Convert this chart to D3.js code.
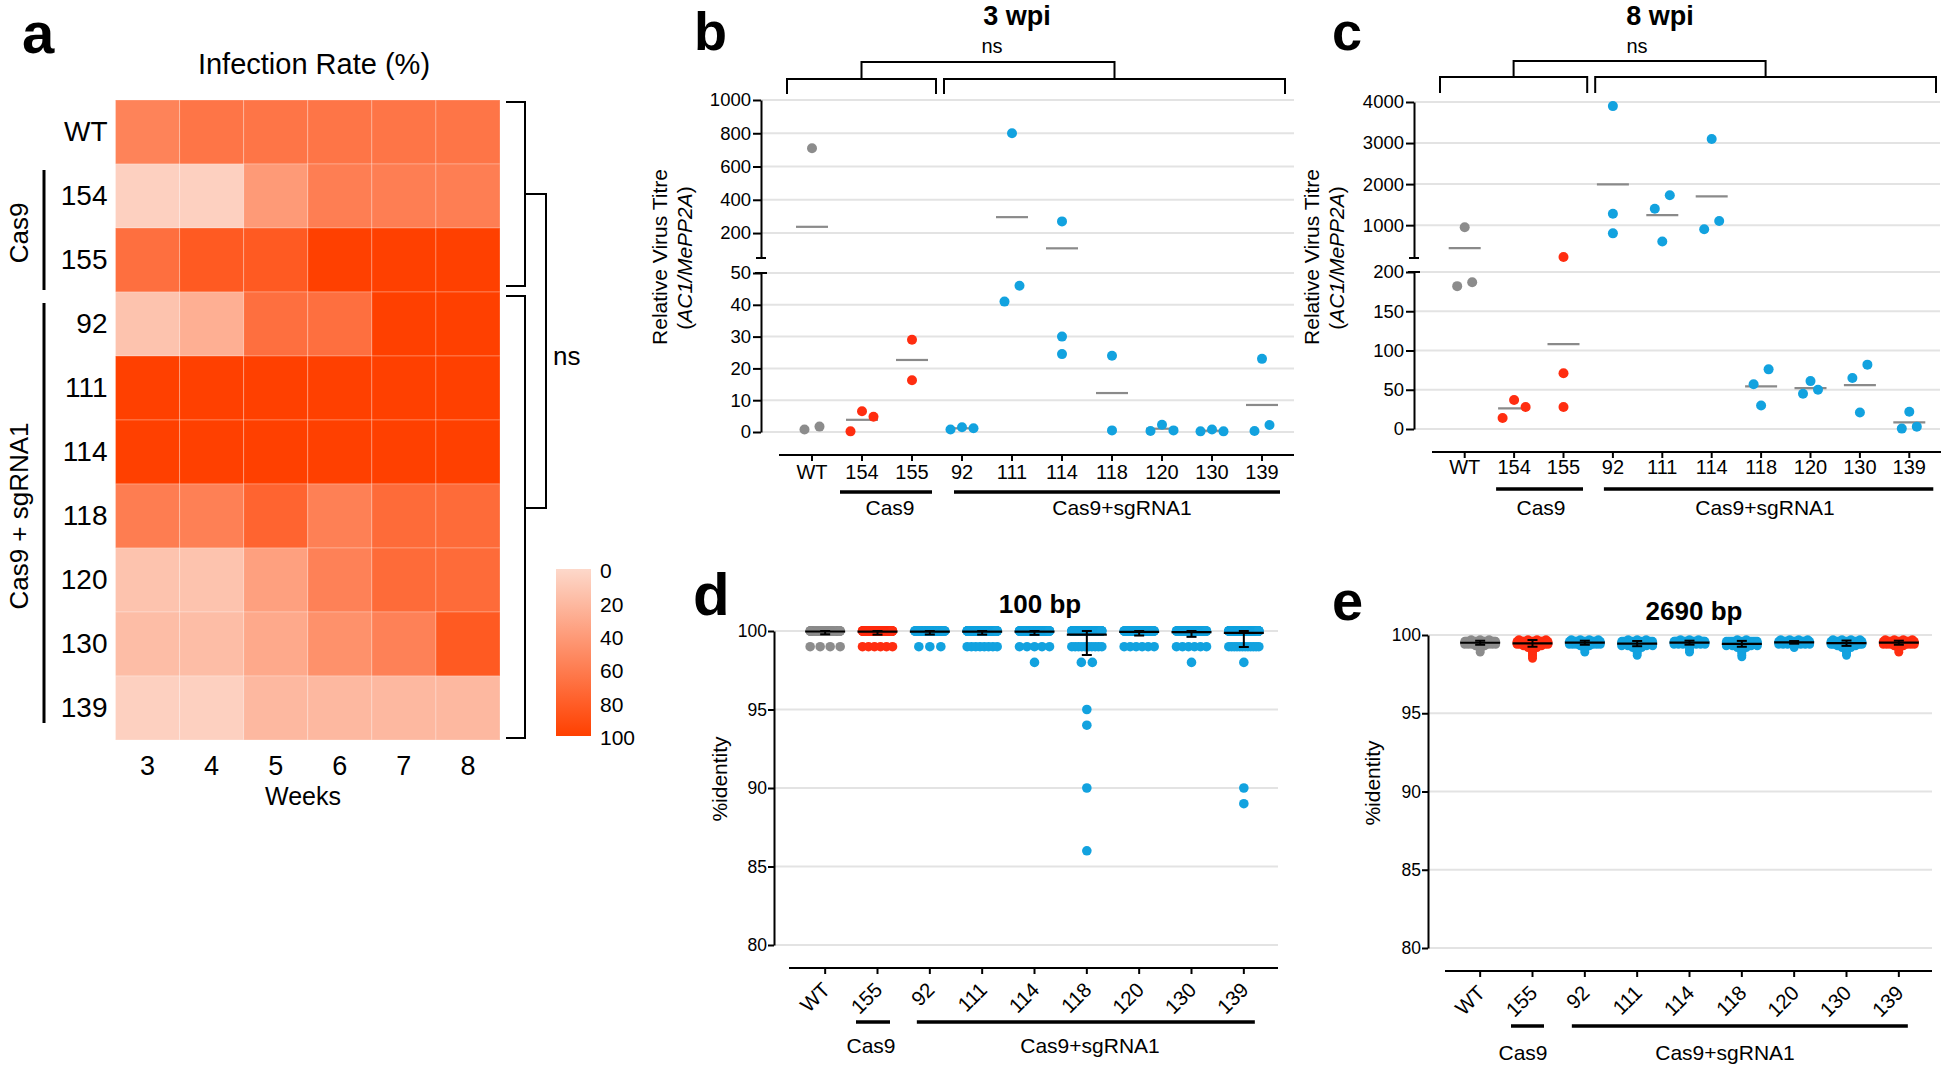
<!DOCTYPE html>
<html><head><meta charset="utf-8">
<script src="https://cdn.jsdelivr.net/npm/d3@7"></script>
<style>
body{margin:0;background:#fff}
svg{display:block}
text{font-family:'Liberation Sans',Arial,Helvetica,sans-serif;fill:#000}
</style></head>
<body>
<svg id="fig" width="1946" height="1071"></svg>
<script>
// ---------------- DATA ----------------
// panel a: infection rate heatmap (%)
const heatWeeks = [3, 4, 5, 6, 7, 8];
const heatLines = ["WT", "154", "155", "92", "111", "114", "118", "120", "130", "139"];
const heatRate = [
  [56, 65, 65, 65, 65, 65],
  [5, 5, 41, 59, 59, 59],
  [69, 83, 83, 100, 100, 100],
  [14, 27, 69, 69, 100, 100],
  [100, 100, 100, 100, 100, 100],
  [100, 100, 100, 100, 100, 100],
  [60, 58, 76, 58, 72, 72],
  [14, 14, 37, 57, 72, 72],
  [18, 18, 31, 47, 57, 83],
  [5, 5, 21, 21, 21, 21]
];
const heatLegendTicks = [0, 20, 40, 60, 80, 100];

// panels b, c: relative virus titre
const titreCats = ["WT", "154", "155", "92", "111", "114", "118", "120", "130", "139"];
const titreGroup = ["WT", "Cas9", "Cas9", "sgRNA1", "sgRNA1", "sgRNA1", "sgRNA1", "sgRNA1", "sgRNA1", "sgRNA1"];
const titre3wpi = [
  [710, 0.8, 1.7], [6.5, 4.8, 0.2], [29, 16.3], [1.5, 0.8, 1.2], [800, 41, 46],
  [270, 30, 24.5], [24, 0.5], [2.3, 0.3, 0.5], [0.8, 0.2, 0.2], [23, 0.3, 2.2]
];
const titre8wpi = [
  [950, 182, 187], [37, 28, 14], [225, 71, 28], [3900, 1280, 800], [1730, 1400, 600],
  [3100, 1100, 900], [76, 57, 30], [61, 45, 50], [82, 65, 21], [22, 0.5, 3]
];
const ticks3Upper = [200, 400, 600, 800, 1000];
const ticks3Lower = [0, 10, 20, 30, 40, 50];
const ticks8Upper = [1000, 2000, 3000, 4000];
const ticks8Lower = [0, 50, 100, 150, 200];

// panels d, e: % identity (number of reads at each identity level)
const identCats = ["WT", "155", "92", "111", "114", "118", "120", "130", "139"];
const identGroup100 = ["WT", "Cas9", "sgRNA1", "sgRNA1", "sgRNA1", "sgRNA1", "sgRNA1", "sgRNA1", "sgRNA1"];
const identGroup2690 = ["WT", "Cas9", "sgRNA1", "sgRNA1", "sgRNA1", "sgRNA1", "sgRNA1", "sgRNA1", "Cas9"];
const ident100Levels = [100, 99, 98, 95, 94, 90, 89, 86];
const ident100Counts = [
  [120, 4, 0, 0, 0, 0, 0, 0],
  [150, 6, 0, 0, 0, 0, 0, 0],
  [80, 3, 0, 0, 0, 0, 0, 0],
  [200, 8, 0, 0, 0, 0, 0, 0],
  [194, 5, 1, 0, 0, 0, 0, 0],
  [200, 10, 2, 1, 1, 1, 0, 1],
  [100, 6, 0, 0, 0, 0, 0, 0],
  [100, 6, 1, 0, 0, 0, 0, 0],
  [275, 12, 1, 0, 0, 1, 1, 0]
];
const ident2690Levels = [99.7, 99.6, 99.5, 99.4, 99.3, 99.2, 99.1, 99.0, 98.9, 98.8, 98.7, 98.6, 98.5];
const ident2690Counts = [
  [3, 30, 40, 10, 2, 1, 1, 1, 1, 0, 0, 0, 0],
  [4, 30, 40, 12, 3, 2, 1, 1, 1, 1, 1, 1, 1],
  [4, 30, 40, 10, 2, 1, 1, 1, 1, 0, 0, 0, 0],
  [3, 20, 35, 25, 6, 2, 1, 1, 1, 1, 1, 0, 0],
  [3, 30, 40, 8, 1, 1, 1, 1, 1, 0, 0, 0, 0],
  [2, 18, 35, 25, 6, 2, 1, 1, 1, 1, 1, 1, 0],
  [4, 30, 40, 8, 1, 1, 0, 0, 0, 0, 0, 0, 0],
  [4, 25, 40, 15, 3, 2, 1, 1, 1, 1, 1, 0, 0],
  [4, 30, 40, 10, 2, 1, 1, 1, 1, 0, 0, 0, 0]
];
const identTicks = [80, 85, 90, 95, 100];

// ---------------- DRAWING ----------------
const svg = d3.select("#fig");
svg.append("rect").attr("width", 1946).attr("height", 1071).attr("fill", "#fff");
const palette = {WT: "#8c8c8c", Cas9: "#ff2d10", sgRNA1: "#12a2df"};
const GRID = "#e3e3e3";
const fmt = d3.format("d");

function txt(g, x, y, s, size, anchor, bold) {
  const t = g.append("text").attr("x", x).attr("y", y).attr("font-size", size).text(s);
  if (anchor) t.attr("text-anchor", anchor);
  if (bold) t.attr("font-weight", "bold");
  return t;
}
function line(g, x1, y1, x2, y2, w, col) {
  return g.append("line").attr("x1", x1).attr("y1", y1).attr("x2", x2).attr("y2", y2)
    .attr("stroke", col || "#000").attr("stroke-width", w || 2);
}
function styleAxis(a, size) {
  a.selectAll("path.domain").attr("stroke", "#000").attr("stroke-width", 2);
  a.selectAll(".tick line").attr("stroke", "#000").attr("stroke-width", 2);
  a.selectAll(".tick text").attr("font-size", size).attr("fill", "#000")
    .attr("font-family", "'Liberation Sans',Arial,sans-serif");
}

// ---------- panel a ----------
(function () {
  const g = svg.append("g");
  txt(g, 22, 53, "a", 58, null, true);
  txt(g, 314, 74, "Infection Rate (%)", 29, "middle");
  const hx = d3.scaleBand().domain(heatWeeks).range([115.5, 500]);
  const hy = d3.scaleBand().domain(heatLines).range([100, 740]);
  const hc = d3.scaleLinear().domain([0, 100]).range(["#fdd8ca", "#ff4000"]).interpolate(d3.interpolateRgb);
  heatLines.forEach((ln, i) => {
    g.selectAll(null).data(heatRate[i]).join("rect")
      .attr("x", (d, j) => hx(heatWeeks[j])).attr("y", hy(ln))
      .attr("width", hx.bandwidth()).attr("height", hy.bandwidth())
      .attr("fill", d => hc(d)).attr("stroke", "rgba(255,255,255,0.25)").attr("stroke-width", 1);
  });
  const ay = g.append("g").attr("transform", "translate(115.5,0)")
    .call(d3.axisLeft(hy).tickSize(0).tickPadding(8));
  ay.select(".domain").remove();
  styleAxis(ay, 28);
  const ax = g.append("g").attr("transform", "translate(0,740)")
    .call(d3.axisBottom(hx).tickSize(0).tickPadding(16));
  ax.select(".domain").remove();
  styleAxis(ax, 27);
  txt(g, 303, 805, "Weeks", 25, "middle");

  const groups = [
    {name: "Cas9", a: "154", b: "155", i0: 6, i1: -2},
    {name: "Cas9 + sgRNA1", a: "92", b: "139", i0: 11, i1: -17}
  ];
  groups.forEach(gr => {
    const y0 = hy(gr.a) + gr.i0, y1 = hy(gr.b) + hy.bandwidth() + gr.i1;
    line(g, 44, y0, 44, y1, 3);
    txt(g, 0, 0, gr.name, 26, "middle").attr("transform", `translate(28,${(y0 + y1) / 2 + 3}) rotate(-90)`);
  });

  const b1t = hy("WT") + 2, b1b = hy("155") + hy.bandwidth() - 6;
  const b2t = hy("92") + 4, b2b = hy("139") + hy.bandwidth() - 2;
  const bp = `M506,${b1t}H525V${b1b}H506 M506,${b2t}H525V${b2b}H506 M525,${(b1t + b1b) / 2}H546V508H525`;
  g.append("path").attr("d", bp).attr("fill", "none").attr("stroke", "#000").attr("stroke-width", 2);
  txt(g, 553, 365, "ns", 26);

  const defs = svg.append("defs");
  const grad = defs.append("linearGradient").attr("id", "heatGrad").attr("x1", 0).attr("x2", 0).attr("y1", 0).attr("y2", 1);
  heatLegendTicks.forEach(t => grad.append("stop").attr("offset", t / 100).attr("stop-color", hc(t)));
  const cs = d3.scaleLinear().domain([0, 100]).range([569, 736]);
  g.append("rect").attr("x", 556).attr("y", cs(0)).attr("width", 35).attr("height", cs(100) - cs(0)).attr("fill", "url(#heatGrad)");
  const al = g.append("g").attr("transform", "translate(591,2)")
    .call(d3.axisRight(cs).tickValues(heatLegendTicks).tickSize(0).tickPadding(9));
  al.select(".domain").remove();
  styleAxis(al, 21);
})();

// ---------- scatter-dot layout helper ----------
function swarm(ys) {
  const n = ys.length;
  const order = d3.range(n).sort((a, b) => ys[a] - ys[b]);
  const xs = new Array(n).fill(0);
  const clusters = [];
  let cur = [order[0]];
  for (let k = 1; k < n; k++) {
    const i = order[k];
    if (ys[i] - ys[cur[cur.length - 1]] < 17) cur.push(i);
    else { clusters.push(cur); cur = [i]; }
  }
  clusters.push(cur);
  clusters.forEach(cl => {
    const pat = cl.length === 1 ? [0] : cl.length === 2 ? [1, -1] : [0, 1, -1, 2, -2, 3, -3];
    const ok = s => cl.every((a, ia) => cl.every((b, ib) =>
      ia >= ib || Math.hypot((pat[ia] - pat[ib]) * s, ys[a] - ys[b]) >= 10.5));
    let s = 7.5;
    if (!ok(s)) s = 11.5;
    cl.forEach((i, k) => xs[i] = pat[k] * s);
  });
  return xs;
}

// ---------- panels b, c ----------
function titrePanel(o) {
  const g = svg.append("g");
  const x = d3.scaleBand().domain(titreCats).range(o.xr);
  const cx = c => x(c) + x.bandwidth() / 2;
  const yU = d3.scaleLinear().domain(o.upDom).range(o.upRange);
  const yL = d3.scaleLinear().domain(o.loDom).range(o.loRange);
  const yv = v => v > o.loDom[1] ? yU(v) : yL(v);

  txt(g, o.labelX, 50, o.label, 54, null, true);
  txt(g, o.titleX, 25, o.title, 27, "middle", true);
  txt(g, o.nsX, 53, "ns", 20, "middle");

  o.upTicks.forEach(t => line(g, o.axisX, yU(t), o.gridRight, yU(t), 2, GRID));
  o.loTicks.forEach(t => line(g, o.axisX, yL(t), o.gridRight, yL(t), 2, GRID));

  const aU = g.append("g").attr("transform", `translate(${o.axisX},0)`)
    .call(d3.axisLeft(yU).tickValues(o.upTicks).tickFormat(fmt).tickSize(8).tickSizeOuter(0).tickPadding(2));
  styleAxis(aU, 18.5);
  const aL = g.append("g").attr("transform", `translate(${o.axisX},0)`)
    .call(d3.axisLeft(yL).tickValues(o.loTicks).tickFormat(fmt).tickSize(8).tickSizeOuter(0).tickPadding(2));
  styleAxis(aL, 18.5);
  line(g, o.axisX - 5, o.upRange[0], o.axisX + 5, o.upRange[0], 2);
  line(g, o.axisX - 6, o.loRange[1], o.axisX + 6, o.loRange[1], 2);

  txt(g, 0, 0, "Relative Virus Titre", 21, "middle").attr("transform", `translate(${o.yt1},257) rotate(-90)`);
  const t2 = g.append("text").attr("font-size", 21).attr("text-anchor", "middle")
    .attr("transform", `translate(${o.yt2},258) rotate(-90)`);
  t2.append("tspan").text("(");
  t2.append("tspan").attr("font-style", "italic").text("AC1/MePP2A");
  t2.append("tspan").text(")");

  line(g, o.catLine[0], o.catY, o.catLine[1], o.catY, 2);
  const ax = g.append("g").attr("transform", `translate(0,${o.catY})`)
    .call(d3.axisBottom(x).tickSize(6).tickPadding(o.tickPad));
  ax.select(".domain").remove();
  styleAxis(ax, 20);

  line(g, cx("154") + o.cas[0], o.barY, cx("155") + o.cas[1], o.barY, 3.5);
  line(g, cx("92") + o.sg[0], o.barY, cx("139") + o.sg[1], o.barY, 3.5);
  txt(g, o.casLabelX, 515, "Cas9", 21, "middle");
  txt(g, o.sgLabelX, 515, "Cas9+sgRNA1", 21, "middle");

  const lb0 = x("WT"), lb1 = x("155") + x.bandwidth() - 1;
  const rb0 = x("92") + 7, rb1 = x("139") + x.bandwidth() + o.rbEnd;
  const bp = `M${lb0},${o.brLow[1]}V${o.brLow[0]}H${lb1}V${o.brLow[1]}` +
    ` M${rb0},${o.brLow[1]}V${o.brLow[0]}H${rb1}V${o.brLow[1]}` +
    ` M${(lb0 + lb1) / 2},${o.brTop[1]}V${o.brTop[0]}H${(rb0 + rb1) / 2}V${o.brTop[1]}`;
  g.append("path").attr("d", bp).attr("fill", "none").attr("stroke", "#000").attr("stroke-width", 2);

  o.data.forEach((vals, i) => {
    const c = cx(titreCats[i]);
    const m = d3.mean(vals);
    line(g, c - 16, yv(m), c + 16, yv(m), 2.2, "#8a8a8a");
  });
  o.data.forEach((vals, i) => {
    const c = cx(titreCats[i]);
    const ys = vals.map(yv);
    const xs = swarm(ys);
    g.selectAll(null).data(vals).join("circle")
      .attr("cx", (d, j) => c + xs[j]).attr("cy", (d, j) => ys[j]).attr("r", 5)
      .attr("fill", palette[titreGroup[i]]);
  });
}

titrePanel({
  label: "b", labelX: 694, title: "3 wpi", titleX: 1017, nsX: 992,
  data: titre3wpi, xr: [787, 1287], axisX: 761,
  upDom: [50, 1000], upRange: [258, 100], upTicks: ticks3Upper,
  loDom: [0, 50], loRange: [432, 273], loTicks: ticks3Lower,
  gridRight: 1294, catY: 455, catLine: [779, 1294], tickPad: 4,
  barY: 492, cas: [-22, 20], sg: [-8, 18], casLabelX: 890, sgLabelX: 1122,
  brTop: [62, 78], brLow: [79, 94], rbEnd: -2,
  yt1: 667, yt2: 692
});
titrePanel({
  label: "c", labelX: 1332, title: "8 wpi", titleX: 1660, nsX: 1637,
  data: titre8wpi, xr: [1440, 1934], axisX: 1414,
  upDom: [200, 4000], upRange: [258, 102], upTicks: ticks8Upper,
  loDom: [0, 200], loRange: [429, 272], loTicks: ticks8Lower,
  gridRight: 1940, catY: 452, catLine: [1432, 1941], tickPad: 2,
  barY: 489, cas: [-18, 19.5], sg: [-9, 24], casLabelX: 1541, sgLabelX: 1765,
  brTop: [61, 76], brLow: [77, 93], rbEnd: 2,
  yt1: 1319, yt2: 1344
});

// ---------- panels d, e ----------
function identPanel(o) {
  const g = svg.append("g");
  const x = d3.scaleBand().domain(identCats).range(o.xr);
  const cx = c => x(c) + x.bandwidth() / 2;
  const y = d3.scaleLinear().domain([80, 100]).range(o.yr);

  txt(g, o.labelX, o.labelY, o.label, o.labelSize, null, true);
  txt(g, o.titleX, o.titleY, o.title, 26, "middle", true);

  identTicks.forEach(t => line(g, o.axisX, y(t), o.gridRight, y(t), 2, GRID));
  const ay = g.append("g").attr("transform", `translate(${o.axisX},0)`)
    .call(d3.axisLeft(y).tickValues(identTicks).tickSize(6).tickSizeOuter(0).tickPadding(1));
  styleAxis(ay, 17.5);
  txt(g, 0, 0, "%identity", 21, "middle").attr("transform", `translate(${o.ytX},${o.ytY}) rotate(-90)`);

  line(g, o.catLine[0], o.catY, o.catLine[1], o.catY, 2);
  const ax = g.append("g").attr("transform", `translate(0,${o.catY})`)
    .call(d3.axisBottom(x).tickSize(6));
  ax.select(".domain").remove();
  styleAxis(ax, 20.5);
  ax.selectAll(".tick text")
    .attr("text-anchor", "end").attr("y", 0).attr("x", 0).attr("dy", "0.35em")
    .attr("transform", "translate(1,18) rotate(-45)");

  line(g, cx("155") + o.cas[0], o.barY, cx("155") + o.cas[1], o.barY, 3.5);
  line(g, cx("92") + o.sg[0], o.barY, cx("139") + o.sg[1], o.barY, 3.5);
  txt(g, o.casLabelX, o.groupLabelY, "Cas9", 21, "middle");
  txt(g, o.sgLabelX, o.groupLabelY, "Cas9+sgRNA1", 21, "middle");

  o.counts.forEach((cnts, i) => {
    const c = cx(identCats[i]);
    const pts = [];
    cnts.forEach((n, k) => {
      if (!n) return;
      const w = n > 1 ? Math.min((n - 1) * o.spacing, o.maxW) : 0;
      for (let m = 0; m < n; m++) {
        pts.push({x: c + (n > 1 ? -w / 2 + m * w / (n - 1) : 0), y: y(o.levels[k])});
      }
    });
    g.selectAll(null).data(pts).join("circle")
      .attr("cx", d => d.x).attr("cy", d => d.y).attr("r", o.r)
      .attr("fill", palette[o.groups[i]]);
  });
  o.counts.forEach((cnts, i) => {
    const c = cx(identCats[i]);
    const vals = [];
    cnts.forEach((n, k) => { for (let m = 0; m < n; m++) vals.push(o.levels[k]); });
    const mu = d3.mean(vals), sd = d3.deviation(vals);
    const top = Math.min(mu + sd, 100), bot = Math.max(mu - sd, 80);
    line(g, c, y(top), c, y(bot), 2);
    line(g, c - 5, y(top), c + 5, y(top), 2);
    line(g, c - 5, y(bot), c + 5, y(bot), 2);
    line(g, c - 20, y(mu), c + 20, y(mu), 2.2);
  });
}

identPanel({
  label: "d", labelX: 693, labelY: 615, labelSize: 60, title: "100 bp", titleX: 1040, titleY: 613,
  counts: ident100Counts, levels: ident100Levels, groups: identGroup100,
  xr: [799, 1270], yr: [945, 631], axisX: 774, gridRight: 1278,
  catY: 968, catLine: [789, 1278], barY: 1022, cas: [-21.5, 12.5], sg: [-13, 11],
  casLabelX: 871, sgLabelX: 1090, groupLabelY: 1053,
  ytX: 727, ytY: 779, r: 4.8, spacing: 11, maxW: 30
});
identPanel({
  label: "e", labelX: 1332, labelY: 620, labelSize: 56, title: "2690 bp", titleX: 1694, titleY: 620,
  counts: ident2690Counts, levels: ident2690Levels, groups: identGroup2690,
  xr: [1454, 1925], yr: [948, 635], axisX: 1428, gridRight: 1932,
  catY: 971, catLine: [1445, 1932], barY: 1026, cas: [-21.5, 11.5], sg: [-13, 9],
  casLabelX: 1523, sgLabelX: 1725, groupLabelY: 1060,
  ytX: 1380, ytY: 783, r: 4.4, spacing: 9, maxW: 31
});
</script>
</body></html>
